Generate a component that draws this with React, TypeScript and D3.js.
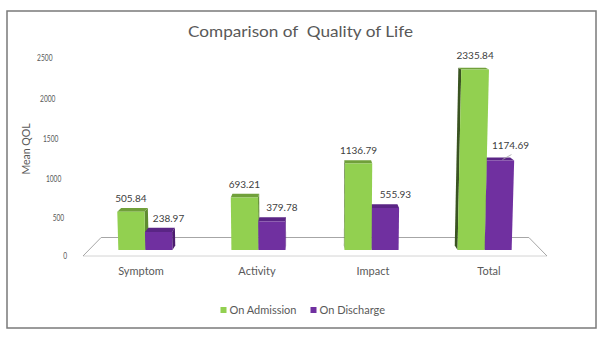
import React from 'react';
import * as d3 from 'd3';

const categories = ['Symptom', 'Activity', 'Impact', 'Total'];
const seriesNames = ['On Admission', 'On Discharge'];
const onAdmission = [505.84, 693.21, 1136.79, 2335.84];
const onDischarge = [238.97, 379.78, 555.93, 1174.69];
const yTicks = [0, 500, 1000, 1500, 2000, 2500];
const titleText = 'Comparison of  Quality of Life';
const yTitle = 'Mean QOL';

const W = 600;
const H = 337;
const CX = 315;
const FLOOR_Y = 256;
const FLOOR_DEPTH = 18.5;
const SHRINK = 0.078;
const DIVERGE = 0.00014;
const Z_FRONT = 0.324;
const Z_BACK = 0.57;
const FONT = 'Lato, "Open Sans", sans-serif';
const TXT = '#595959';

const faces = {
  'On Admission': { front: '#92D050', top: '#70A03A', right: '#5F8C30', left: '#3A5421' },
  'On Discharge': { front: '#7030A0', top: '#5A2585', right: '#4B1C6E', left: '#3C1659' },
};

const x = d3.scaleBand<string>().domain(categories).range([83, 547]);
const inner = d3
  .scaleBand<string>()
  .domain(seriesNames)
  .range([0, x.bandwidth()])
  .paddingInner(0)
  .paddingOuter(1.09);
const yLin = d3.scaleLinear().domain([0, 2500]).range([0, 191.25]);
const hScreen = (v: number) => {
  const h = yLin(v);
  return h * (1 + 0.00018 * h);
};
const tickX = d3.scaleLinear().domain([0, 198]).range([67, 52.5]);

function proj(X: number, hs: number, z: number): [number, number] {
  const k = (1 - SHRINK * z) * (1 + DIVERGE * hs);
  return [CX + (X - CX) * k, FLOOR_Y - FLOOR_DEPTH * z * (1 - hs / 290) - hs];
}
const pts = (arr: [number, number][]) => arr.map((p) => p.map((n) => n.toFixed(2)).join(',')).join(' ');

type Bar = { cat: string; series: string; value: number; i: number };

export default function App() {
  const bars: Bar[] = [];
  categories.forEach((c, i) => {
    bars.push({ cat: c, series: seriesNames[0], value: onAdmission[i], i });
    bars.push({ cat: c, series: seriesNames[1], value: onDischarge[i], i });
  });
  const geo = bars.map((b) => {
    const X0 = (x(b.cat) as number) + (inner(b.series) as number);
    const X1 = X0 + inner.bandwidth();
    const hs = hScreen(b.value);
    const mid = (X0 + X1) / 2;
    return { ...b, X0, X1, hs, mid };
  });
  const order = [...geo].sort((a, b) => Math.abs(b.mid - CX) - Math.abs(a.mid - CX));

  const floor: [number, number][] = [proj(83, 0, 1), proj(547, 0, 1), proj(547, 0, 0), proj(83, 0, 0)];

  return (
    <svg
      width={W}
      height={H}
      style={{ position: 'absolute', left: 0, top: 0, background: '#fff' }}
      fontFamily={FONT}
    >
      <rect x={0} y={0} width={W} height={H} fill="#fff" />
      <rect x={7} y={11} width={589} height={317} fill="#fff" stroke="#7a7a7a" strokeWidth={1.5} />
      <text
        x={300.5}
        y={36.5}
        textAnchor="middle"
        fontSize={16}
        fill={TXT}
        textLength={225}
        lengthAdjust="spacingAndGlyphs"
        style={{ whiteSpace: 'pre' }}
      >
        {titleText}
      </text>

      {/* floor */}
      <polygon points={pts(floor)} fill="#fff" stroke="none" />
      <line x1={floor[3][0]} y1={floor[3][1]} x2={floor[2][0]} y2={floor[2][1]} stroke="#d4d4d4" strokeWidth={1} />
      <polyline points={pts([floor[3], floor[0], floor[1], floor[2]])} fill="none" stroke="#a6a6a6" strokeWidth={1} />

      {/* y ticks */}
      {yTicks.map((t) => {
        const hs = hScreen(t);
        const label = String(t);
        return (
          <text
            key={t}
            x={tickX(hs)}
            y={FLOOR_Y - hs + 3.3}
            textAnchor="end"
            fontSize={8.5}
            fill={TXT}
            textLength={label.length * 3.85}
            lengthAdjust="spacingAndGlyphs"
          >
            {label}
          </text>
        );
      })}
      <text
        transform="translate(26,149) rotate(-90)"
        textAnchor="middle"
        dy="0.35em"
        fontSize={10.5}
        fill={TXT}
      >
        {yTitle}
      </text>

      {/* bars */}
      {order.map((g) => {
        const f = faces[g.series as keyof typeof faces];
        const { X0, X1, hs } = g;
        const front = pts([proj(X0, 0, Z_FRONT), proj(X1, 0, Z_FRONT), proj(X1, hs, Z_FRONT), proj(X0, hs, Z_FRONT)]);
        const top = pts([proj(X0, hs, Z_FRONT), proj(X1, hs, Z_FRONT), proj(X1, hs, Z_BACK), proj(X0, hs, Z_BACK)]);
        const rightSide = g.mid < CX;
        const Xs = rightSide ? X1 : X0;
        const side = pts([proj(Xs, 0, Z_FRONT), proj(Xs, 0, Z_BACK), proj(Xs, hs, Z_BACK), proj(Xs, hs, Z_FRONT)]);
        return (
          <g key={g.cat + g.series}>
            <polygon points={side} fill={rightSide ? f.right : f.left} />
            <polygon points={top} fill={f.top} />
            <polygon points={front} fill={f.front} />
          </g>
        );
      })}

      {/* data labels */}
      {geo.map((g) => {
        const [tx, ty] = proj(g.mid, g.hs, Z_FRONT);
        const isDis = g.series === seriesNames[1];
        const lx = tx + (isDis ? 10 : 0);
        const far = isDis && g.i === categories.length - 1;
        const ly = ty - (far ? 11.5 : 10);
        return (
          <g key={'l' + g.cat + g.series}>
            {far && <line x1={tx + 2} y1={ty - 1} x2={tx + 11} y2={ty - 6} stroke="#a6a6a6" strokeWidth={0.8} />}
            <text x={lx} y={ly} textAnchor="middle" fontSize={10} fill="#404040">
              {g.value.toFixed(2)}
            </text>
          </g>
        );
      })}

      {/* category labels */}
      {categories.map((c) => (
        <text key={c} x={(x(c) as number) + x.bandwidth() / 2} y={275} textAnchor="middle" fontSize={11} fill={TXT}>
          {c}
        </text>
      ))}

      {/* legend */}
      {seriesNames.map((s, i) => {
        const lx = i === 0 ? 220.5 : 310.5;
        return (
          <g key={s}>
            <rect x={lx} y={307} width={6} height={6} fill={faces[s as keyof typeof faces].front} />
            <text x={lx + 9} y={314} fontSize={11} fill={TXT}>
              {s}
            </text>
          </g>
        );
      })}
    </svg>
  );
}
